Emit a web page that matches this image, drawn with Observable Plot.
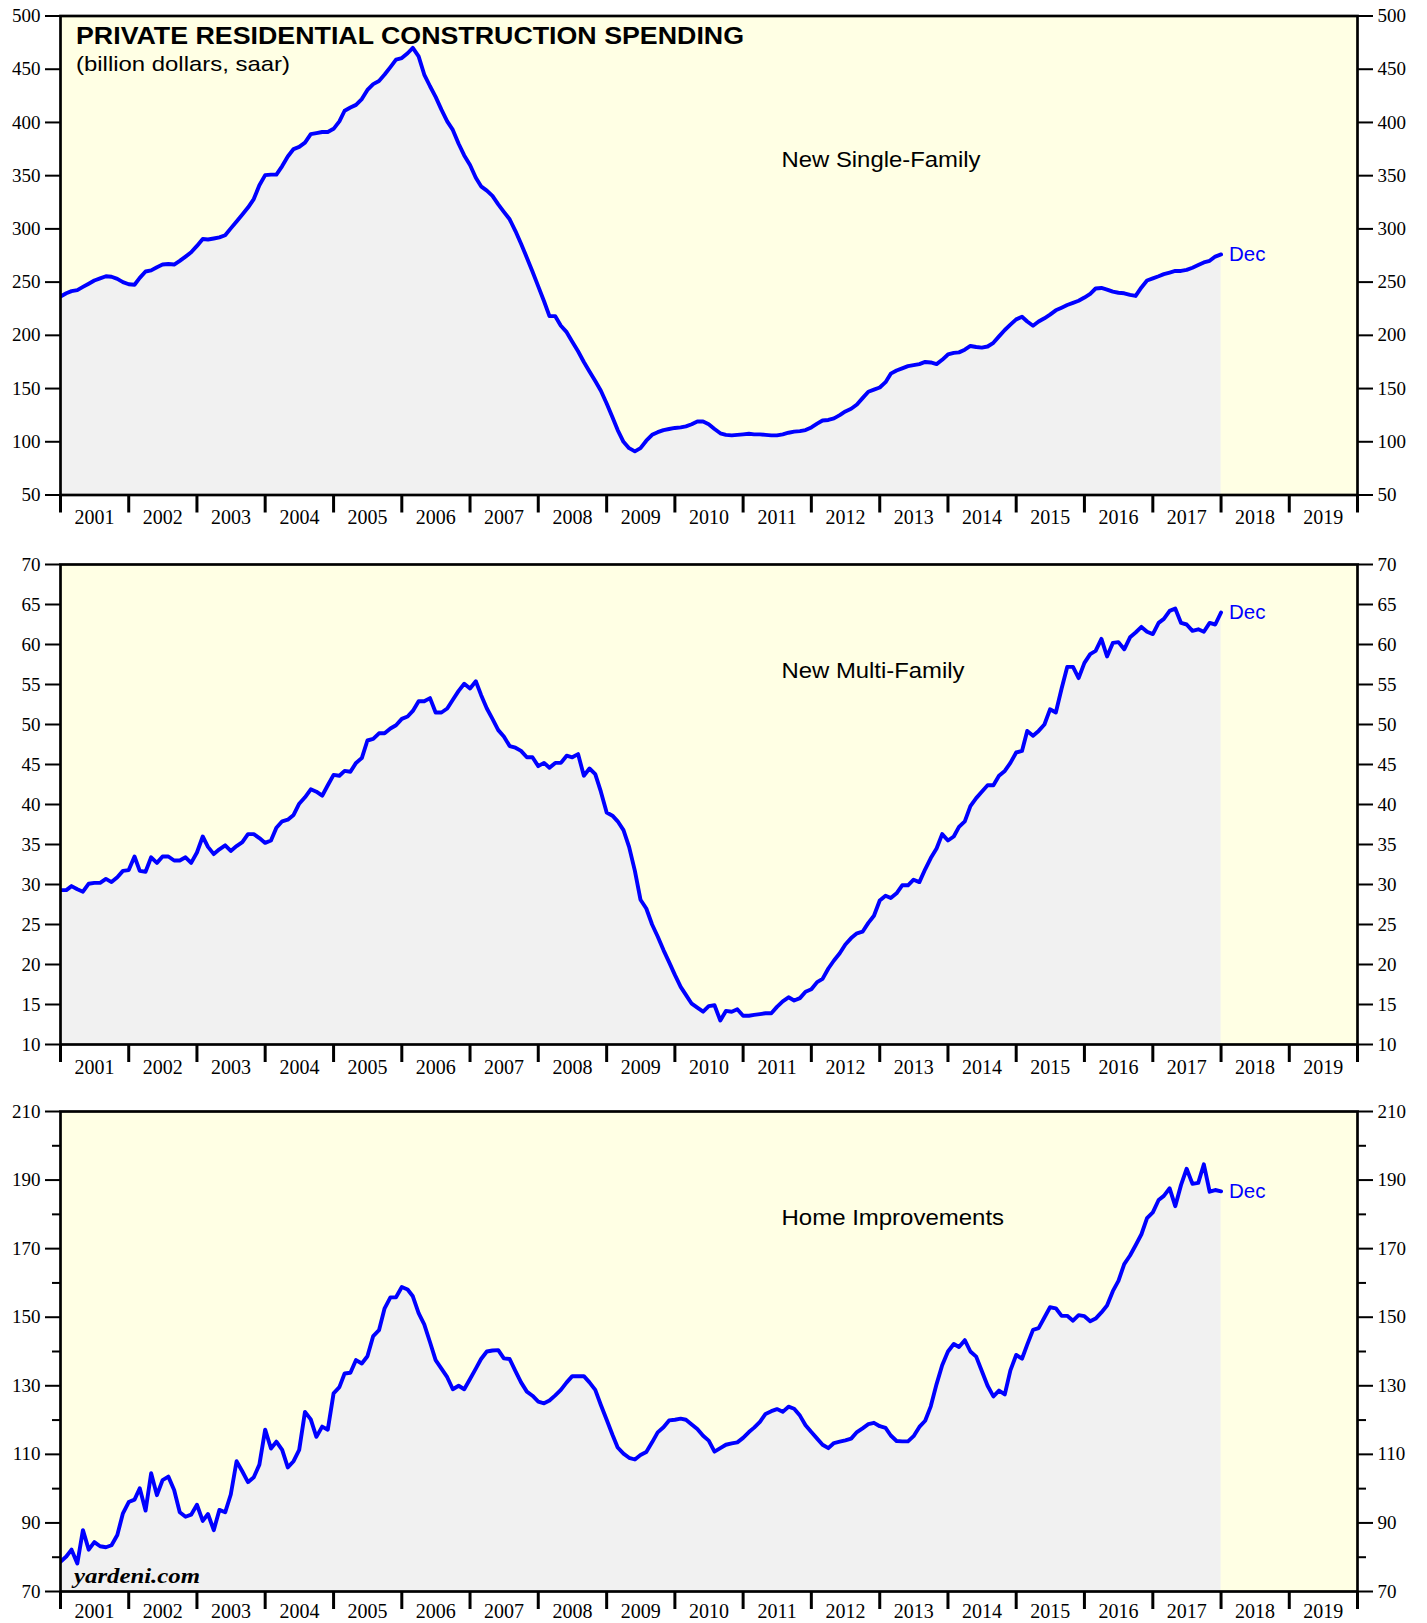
<!DOCTYPE html>
<html>
<head>
<meta charset="utf-8">
<script src="https://cdn.jsdelivr.net/npm/d3@7"></script>
<script src="https://cdn.jsdelivr.net/npm/@observablehq/plot@0.6"></script>
<style>
  html, body { margin: 0; padding: 0; background: #ffffff; overflow: hidden; }
  #chart { position: relative; width: 1427px; height: 1623px; overflow: hidden; }
  #chart svg { position: absolute; left: 0; overflow: visible; }
</style>
</head>
<body>
<div id="chart"></div>
<script>
// ---------------- DATA ----------------
const title = "PRIVATE RESIDENTIAL CONSTRUCTION SPENDING";
const subtitle = "(billion dollars, saar)";
const seriesNames = ["New Single-Family", "New Multi-Family", "Home Improvements"];
const lastLabel = "Dec";
const credit = "yardeni.com";
const yearLabels = d3.range(2001, 2020);          // 2001 ... 2019
const firstMonth = "2000-12";                     // monthly values, Dec 2000 ... Dec 2017 (plotted at month end)

const singleFamily = [
  236.5, 239.5, 241.5, 242.5, 245.5, 248.5, 251.5, 253.5, 255.5, 255, 253, 250,
  248, 247.5, 254, 260, 261, 264, 266.5, 267, 266.5, 270, 274, 278,
  284, 290.5, 290, 291, 292, 294, 300.5, 307, 313.5, 320, 328, 341,
  350.5, 351, 351, 359, 368, 375, 377, 381, 389, 390, 391, 391,
  394, 401, 411, 414, 416.5, 422, 430.5, 436, 439, 445, 452, 459,
  460.5, 465, 470, 462, 445, 434, 424, 412, 401, 393, 380, 369,
  360, 348, 340, 336, 331, 323, 316, 309, 298, 286, 273, 260,
  246, 232, 218, 218, 209, 203, 194, 185, 175, 166, 157, 148,
  136, 123, 111, 100, 94, 91, 94, 101, 106.5, 109, 111, 112,
  113, 113.5, 114.5, 116.5, 119, 119, 116.5, 112, 108, 106.5, 106, 106.5,
  107, 107.5, 107, 107, 106.5, 106, 106, 107, 108.5, 109.5, 110, 111,
  113.5, 117, 120, 120.5, 122, 125, 128.5, 131, 135, 141, 147, 149,
  151, 156, 164, 167, 169, 171, 172, 173, 175, 174.5, 173, 177,
  182, 183.5, 184, 186.5, 190, 189, 188.5, 189.5, 193, 199, 205, 210,
  215, 217.5, 213, 209, 213, 216, 219.5, 223.5, 226, 228.5, 230.5, 232.5,
  235.5, 239, 244, 244.5, 243, 241, 240, 239.5, 238, 237, 245, 251.5,
  253.5, 255.5, 257.5, 259, 260.5, 260.5, 261.5, 263.5, 266, 268.5, 270, 274,
  276
];

const multiFamily = [
  29.3, 29.3, 29.8, 29.4, 29.1, 30.1, 30.2, 30.2, 30.7, 30.3, 30.9, 31.7,
  31.8, 33.5, 31.7, 31.6, 33.4, 32.7, 33.5, 33.5, 33.0, 33.0, 33.4, 32.7,
  34.0, 36.0, 34.7, 33.8, 34.4, 34.9, 34.2, 34.8, 35.3, 36.3, 36.3, 35.8,
  35.2, 35.5, 37.1, 37.9, 38.1, 38.7, 40.1, 40.9, 41.9, 41.6, 41.1, 42.4,
  43.7, 43.6, 44.2, 44.1, 45.2, 45.8, 48.0, 48.2, 48.9, 48.9, 49.5, 49.9,
  50.7, 51.0, 51.7, 52.9, 52.9, 53.3, 51.5, 51.5, 52.0, 53.1, 54.2, 55.1,
  54.5, 55.4, 53.7, 52.0, 50.7, 49.3, 48.5, 47.3, 47.1, 46.7, 45.9, 45.9,
  44.8, 45.2, 44.6, 45.2, 45.2, 46.1, 45.9, 46.3, 43.6, 44.5, 43.8, 41.6,
  39.0, 38.6, 37.9, 36.8, 34.7, 31.7, 28.1, 27.0, 25.0, 23.5, 21.8, 20.3,
  18.7, 17.2, 16.2, 15.1, 14.6, 14.1, 14.8, 14.9, 13.0, 14.2, 14.1, 14.4,
  13.6, 13.6, 13.7, 13.8, 13.9, 13.9, 14.7, 15.4, 15.9, 15.5, 15.8, 16.6,
  16.9, 17.8, 18.2, 19.5, 20.5, 21.4, 22.5, 23.3, 23.9, 24.1, 25.2, 26.1,
  28.0, 28.6, 28.3, 28.9, 29.9, 29.9, 30.6, 30.3, 31.9, 33.3, 34.5, 36.3,
  35.5, 36.0, 37.2, 37.9, 39.8, 40.8, 41.6, 42.4, 42.4, 43.6, 44.2, 45.2,
  46.5, 46.7, 49.2, 48.6, 49.2, 50.0, 51.9, 51.5, 54.5, 57.2, 57.2, 55.8,
  57.7, 58.8, 59.2, 60.7, 58.5, 60.2, 60.3, 59.4, 60.9, 61.5, 62.2, 61.6,
  61.3, 62.7, 63.2, 64.2, 64.5, 62.7, 62.5, 61.7, 61.9, 61.6, 62.7, 62.5,
  64.0
];

const homeImprovements = [
  78.7, 80.2, 82.2, 78.2, 87.9, 82.2, 84.4, 83.2, 82.9, 83.5, 86.5, 92.8,
  96.1, 96.8, 100.1, 93.6, 104.5, 98.1, 102.5, 103.5, 99.6, 93.1, 91.8, 92.4,
  95.3, 90.6, 92.6, 87.9, 93.8, 93.1, 98.3, 108.0, 105.0, 101.9, 103.3, 107.0,
  117.2, 111.7, 113.7, 111.3, 106.2, 108.0, 111.3, 122.4, 120.2, 115.1, 118.1, 117.2,
  127.8, 129.6, 133.6, 133.8, 137.5, 136.5, 138.6, 144.5, 146.2, 152.6, 155.8, 155.8,
  158.8, 158.1, 156.1, 151.2, 147.9, 142.7, 137.5, 135.0, 132.5, 129.0, 130.0, 129.0,
  132.0, 135.0, 137.8, 140.0, 140.3, 140.4, 138.0, 137.8, 134.3, 131.0, 128.3, 127.1,
  125.4, 124.9, 125.7, 127.2, 128.8, 131.0, 132.8, 132.8, 132.8, 131.0, 128.8, 124.4,
  120.1, 115.7, 112.0, 110.2, 109.0, 108.5, 109.8, 110.7, 113.5, 116.4, 117.9, 119.9,
  120.1, 120.4, 120.1, 118.7, 117.4, 115.4, 114.0, 110.8, 111.8, 112.8, 113.2, 113.5,
  114.8, 116.5, 117.8, 119.5, 121.8, 122.6, 123.2, 122.4, 123.9, 123.3, 121.3, 118.5,
  116.5, 114.6, 112.8, 111.8, 113.3, 113.7, 114.1, 114.6, 116.5, 117.6, 118.8, 119.2,
  118.2, 117.7, 115.5, 113.9, 113.8, 113.8, 115.3, 118.0, 119.8, 124.0, 130.5, 136.0,
  140.0, 142.2, 141.3, 143.3, 140.0, 138.5, 134.3, 130.0, 126.9, 128.6, 127.5, 134.5,
  139.0, 137.9, 142.0, 146.3, 146.8, 149.9, 152.9, 152.6, 150.4, 150.4, 149.0, 150.6,
  150.3, 148.8, 149.6, 151.4, 153.4, 157.6, 160.6, 165.5, 168.0, 171.0, 174.2, 178.9,
  180.6, 184.2, 185.4, 187.6, 182.4, 188.6, 193.3, 188.9, 189.2, 194.6, 186.6, 187.1,
  186.7
];

const yTicksSingle = d3.range(50, 501, 50);
const yTicksMulti = d3.range(10, 71, 5);
const yTicksHome = d3.range(70, 211, 20);
const yMinorHome = d3.range(80, 201, 20);

// ---------------- LAYOUT / STYLE ----------------
const SANS = "'Liberation Sans', Arial, Helvetica, sans-serif";
const SERIF = "'Liberation Serif', 'Times New Roman', Times, serif";
const BG = "#FFFFE4";
const AREA = "#F1F1F1";
const BLUE = "#0000FF";

const panels = [
  {values: singleFamily, name: seriesNames[0], domain: [50, 500], ticks: yTicksSingle, minor: [],
   top: 0, marginTop: 15.5, plotH: 479, marginBottom: 40, yearPad: 15, nameDy: 151.2, header: true, credit: false},
  {values: multiFamily, name: seriesNames[1], domain: [10, 70], ticks: yTicksMulti, minor: [],
   top: 535, marginTop: 29, plotH: 480, marginBottom: 40, yearPad: 15, nameDy: 113.7, header: false, credit: false},
  {values: homeImprovements, name: seriesNames[2], domain: [70, 210], ticks: yTicksHome, minor: yMinorHome,
   top: 1085, marginTop: 26, plotH: 480, marginBottom: 32, yearPad: 12.5, nameDy: 113.3, header: false, credit: true}
];

const textWidths = new Map([
  [title, 668], [subtitle, 214],
  [seriesNames[0], 199], [seriesNames[1], 183], [seriesNames[2], 222.6],
  [credit, 126]
]);

const start = d3.utcParse("%Y-%m")(firstMonth);
const yearStarts = d3.utcYear.range(new Date(Date.UTC(2001, 0, 1)), new Date(Date.UTC(2020, 0, 2)));
const midYears = yearLabels.map(y => new Date(Date.UTC(y, 6, 2)));

const chart = document.getElementById("chart");

for (const p of panels) {
  const data = p.values.map((v, i) => ({month: d3.utcMonth.offset(start, i), date: d3.utcMonth.offset(start, i + 1), value: v}));
  const last = data[data.length - 1];
  const axisCommon = {tickSize: 15, tickPadding: 5, strokeWidth: 2, fontSize: 19, fontFamily: SERIF, label: null};
  const marks = [
    Plot.frame({fill: BG, stroke: null}),
    Plot.areaY(data, {x: "date", y1: p.domain[0], y2: "value", fill: AREA, clip: true}),
    Plot.lineY(data, {x: "date", y: "value", stroke: BLUE, strokeWidth: 3.9, strokeLinejoin: "round", clip: true}),
    Plot.axisY({anchor: "left", ticks: p.ticks, ...axisCommon}),
    Plot.axisY({anchor: "right", ticks: p.ticks, ...axisCommon}),
    Plot.axisX({ticks: yearStarts, tickSize: 18, strokeWidth: 3, tickFormat: () => "", label: null}),
    Plot.axisX({ticks: midYears, tickSize: 0, tickPadding: p.yearPad, tickFormat: d => String(d.getUTCFullYear()),
                fontSize: 20, fontFamily: SERIF, label: null}),
    Plot.frame({stroke: "black", strokeWidth: 2.7}),
    Plot.text([p.name], {text: d => d, frameAnchor: "top-left", dx: 721, dy: p.nameDy, lineAnchor: "bottom",
                         textAnchor: "start", fontSize: 22, fontFamily: SANS, fill: "black"}),
    Plot.text([last], {x: "date", y: "value", text: () => lastLabel, dx: 8, textAnchor: "start", lineAnchor: "middle",
                       fontSize: 20.5, fontFamily: SANS, fill: BLUE})
  ];
  if (p.minor.length) {
    marks.push(Plot.axisY({anchor: "left", ticks: p.minor, tickSize: 8, strokeWidth: 2, tickFormat: () => "", label: null}));
    marks.push(Plot.axisY({anchor: "right", ticks: p.minor, tickSize: 8, strokeWidth: 2, tickFormat: () => "", label: null}));
  }
  if (p.header) {
    marks.push(Plot.text([title], {text: d => d, frameAnchor: "top-left", dx: 15.5, dy: 27.8, lineAnchor: "bottom",
                                   textAnchor: "start", fontSize: 24, fontWeight: "bold", fontFamily: SANS, fill: "black"}));
    marks.push(Plot.text([subtitle], {text: d => d, frameAnchor: "top-left", dx: 15.5, dy: 54.5, lineAnchor: "bottom",
                                      textAnchor: "start", fontSize: 21, fontFamily: SANS, fill: "black"}));
  }
  if (p.credit) {
    marks.push(Plot.text([credit], {text: d => d, frameAnchor: "top-left", dx: 13.5, dy: 471, lineAnchor: "bottom",
                                    textAnchor: "start", fontSize: 21, fontWeight: "bold", fontStyle: "italic",
                                    fontFamily: SERIF, fill: "black"}));
  }

  const svg = Plot.plot({
    width: 1427,
    height: p.marginTop + p.plotH + p.marginBottom,
    marginLeft: 60, marginRight: 70, marginTop: p.marginTop, marginBottom: p.marginBottom,
    style: {background: "transparent", color: "black", fontFamily: SERIF, overflow: "visible"},
    x: {type: "utc", domain: [new Date(Date.UTC(2001, 0, 1)), new Date(Date.UTC(2020, 0, 1))]},
    y: {domain: p.domain},
    marks
  });
  svg.style.top = p.top + "px";
  chart.appendChild(svg);
  svg.querySelectorAll("text").forEach(t => {
    const w = textWidths.get(t.textContent);
    if (w) { t.setAttribute("textLength", w); t.setAttribute("lengthAdjust", "spacingAndGlyphs"); }
  });
}
</script>
</body>
</html>
